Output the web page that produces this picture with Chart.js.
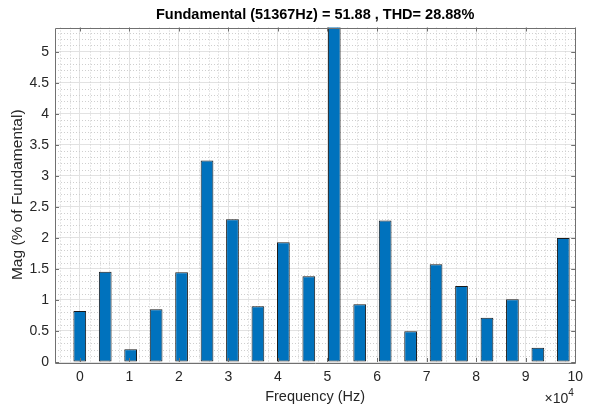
<!DOCTYPE html>
<html>
<head>
<meta charset="utf-8">
<script src="https://cdn.jsdelivr.net/npm/chart.js@4/dist/chart.umd.min.js"></script>
<style>
  html, body { margin: 0; padding: 0; background: #fff; }
  #wrap { width: 590px; height: 406px; position: relative; }
</style>
</head>
<body>
<div id="wrap"><canvas id="chart"></canvas></div>
<script>
// harmonic frequencies (Hz) and magnitudes (% of fundamental)
const freqHz = [0, 5137, 10273, 15410, 20547, 25684, 30820, 35957, 41094, 46230,
                51367, 56504, 61640, 66777, 71914, 77051, 82187, 87324, 92461, 97597];
const magPct = [0.82, 1.455, 0.205, 0.85, 1.445, 3.245, 2.30, 0.90, 1.93, 1.38,
                100, 0.93, 2.28, 0.495, 1.575, 1.225, 0.715, 1.01, 0.23, 2.00];
const xTicks = [0, 10000, 20000, 30000, 40000, 50000, 60000, 70000, 80000, 90000, 100000];
const yTicks = [0, 0.5, 1, 1.5, 2, 2.5, 3, 3.5, 4, 4.5, 5];
const titleText = 'Fundamental (51367Hz) = 51.88 , THD= 28.88%';

const FONT = "'Liberation Sans', Arial, Helvetica, sans-serif";
const TEXT = '#262626';

// minor dotted grid, box, inward ticks, title and exponent label
const matlabAxes = {
    id: 'matlabAxes',
    beforeDatasetsDraw(chart) {
        const { ctx, chartArea: a, scales: { x, y } } = chart;
        ctx.save();
        ctx.strokeStyle = '#cfcfcf';
        ctx.lineWidth = 1;
        ctx.setLineDash([1, 2]);
        ctx.beginPath();
        for (let v = -4000; v < x.max; v += 2000) {
            if (v % 10000 === 0) continue;
            const px = Math.round(x.getPixelForValue(v)) + 0.5;
            ctx.moveTo(px, a.top); ctx.lineTo(px, a.bottom);
        }
        for (let i = 1; i * 0.1 < y.max; i++) {
            if (i % 5 === 0) continue;
            const py = Math.round(y.getPixelForValue(i * 0.1)) + 0.5;
            ctx.moveTo(a.left, py); ctx.lineTo(a.right, py);
        }
        ctx.stroke();
        ctx.restore();
    },
    afterDatasetsDraw(chart) {
        const { ctx, chartArea: a, scales: { x, y } } = chart;
        ctx.save();
        ctx.strokeStyle = '#707070';
        ctx.lineWidth = 1;
        ctx.beginPath();
        ctx.rect(Math.round(a.left) + 0.5, Math.round(a.top) + 0.5,
                 Math.round(a.right - a.left), Math.round(a.bottom - a.top));
        ctx.stroke();
        const tl = 4;
        ctx.beginPath();
        xTicks.forEach(v => {
            const px = Math.round(x.getPixelForValue(v)) + 0.5;
            ctx.moveTo(px, a.bottom); ctx.lineTo(px, a.bottom - tl);
            ctx.moveTo(px, a.top); ctx.lineTo(px, a.top + tl);
        });
        yTicks.forEach(v => {
            const py = Math.round(y.getPixelForValue(v)) + 0.5;
            ctx.moveTo(a.left, py); ctx.lineTo(a.left + tl, py);
            ctx.moveTo(a.right, py); ctx.lineTo(a.right - tl, py);
        });
        ctx.stroke();

        // title centred over the plot
        ctx.fillStyle = '#000';
        ctx.font = 'bold 14.5px ' + FONT;
        ctx.textAlign = 'center';
        ctx.textBaseline = 'middle';
        ctx.fillText(titleText, (a.left + a.right) / 2, 15);

        // x10^4 exponent
        ctx.fillStyle = TEXT;
        ctx.font = '14px ' + FONT;
        ctx.textAlign = 'right';
        ctx.fillText('\u00d710', a.right - 7, 399);
        ctx.font = '10px ' + FONT;
        ctx.textAlign = 'left';
        ctx.fillText('4', a.right - 7, 393);
        ctx.restore();
    }
};

new Chart(document.getElementById('chart'), {
    type: 'bar',
    data: {
        datasets: [{
            data: freqHz.map((f, i) => ({ x: f, y: magPct[i] })),
            backgroundColor: '#0072BD',
            borderColor: '#1a1a1a',
            borderWidth: 1,
            borderSkipped: false,
            barPercentage: 1,
            categoryPercentage: 0.5
        }]
    },
    options: {
        responsive: true,
        maintainAspectRatio: false,
        animation: false,
        layout: { padding: { top: 27.5, right: 10, left: 0, bottom: 0 } },
        plugins: {
            legend: { display: false },
            tooltip: { enabled: false },
            title: { display: false }
        },
        scales: {
            x: {
                type: 'linear',
                min: -5000,
                max: 100000,
                offset: false,
                afterBuildTicks: s => { s.ticks = xTicks.map(v => ({ value: v })); },
                afterFit: s => { s.height = 44; },
                ticks: {
                    autoSkip: false,
                    maxRotation: 0,
                    padding: 7,
                    color: TEXT,
                    font: { family: FONT, size: 14 },
                    callback: v => String(v / 10000)
                },
                grid: { color: '#e2e2e2', drawTicks: false, offset: false },
                border: { display: false },
                title: {
                    display: true,
                    text: 'Frequency (Hz)',
                    color: TEXT,
                    font: { family: FONT, size: 14.5 },
                    padding: { top: 0, bottom: 0.5 }
                }
            },
            y: {
                min: 0,
                max: 5.39,
                afterBuildTicks: s => { s.ticks = yTicks.map(v => ({ value: v })); },
                afterFit: s => { s.width = 55; },
                ticks: {
                    padding: 6,
                    color: TEXT,
                    font: { family: FONT, size: 14 },
                    callback: v => String(v)
                },
                grid: { color: '#e2e2e2', drawTicks: false },
                border: { display: false },
                title: {
                    display: true,
                    text: 'Mag (% of Fundamental)',
                    color: TEXT,
                    font: { family: FONT, size: 15.5 },
                    padding: { top: 8.7, bottom: 4 }
                }
            }
        }
    },
    plugins: [matlabAxes]
});
</script>
</body>
</html>
